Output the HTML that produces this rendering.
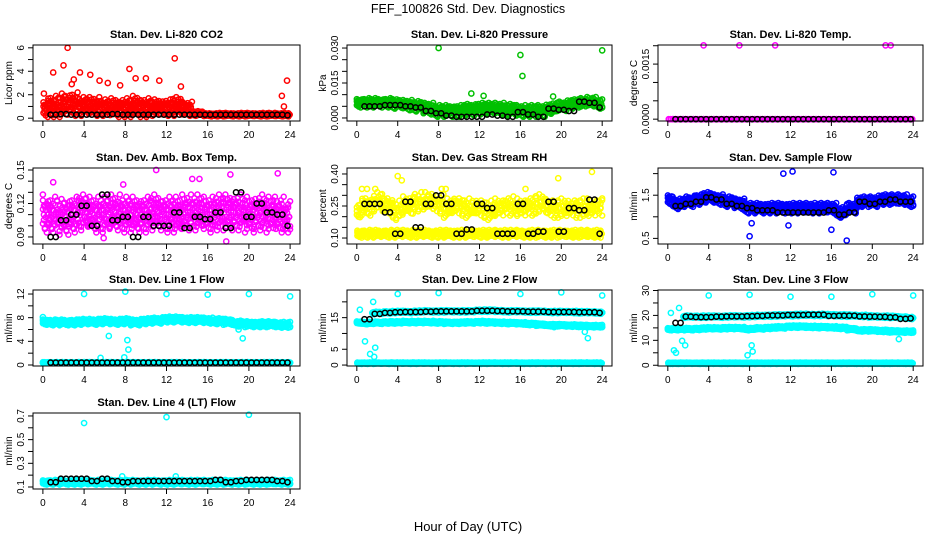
<!DOCTYPE html>
<html><head><meta charset="utf-8"><style>
body{margin:0;background:#fff;}
svg{display:block;font-family:"Liberation Sans",Arial,sans-serif;}
</style></head><body>
<svg id="chart" width="936" height="540" viewBox="0 0 936 540" xmlns="http://www.w3.org/2000/svg">
<text x="468" y="13" text-anchor="middle" font-size="12.5">FEF_100826  Std. Dev. Diagnostics</text>
<text x="468" y="531" text-anchor="middle" font-size="13">Hour of Day (UTC)</text>
</svg>
<script>
// ---- data (hourly, 0..24) ----
const hours=[0,1,2,3,4,5,6,7,8,9,10,11,12,13,14,15,16,17,18,19,20,21,22,23,24];
const xTicks=[0,4,8,12,16,20,24];

const co2Center=[0.8,1,1.1,1.2,1,1,0.9,0.9,0.9,1,0.9,0.9,0.9,1,0.8,0.4,0.3,0.3,0.3,0.3,0.3,0.3,0.3,0.3,0.3];
const co2Spread=[0.7,0.9,1,1,0.8,0.8,0.7,0.8,0.8,0.9,0.8,0.7,0.7,0.8,0.6,0.2,0.15,0.15,0.15,0.15,0.15,0.15,0.15,0.15,0.15];
const co2Black=[0.3,0.3,0.35,0.3,0.3,0.3,0.3,0.35,0.3,0.3,0.3,0.3,0.3,0.3,0.3,0.3,0.3,0.3,0.3,0.3,0.3,0.3,0.3,0.3,0.25];
const co2OutX=[2.4,12.8,2,8.4,3.6,1,23.7,9,11.3,6.3,23.2,23.4,0.1,4.6,5.5,3,10,2.8,7.5,13.4];
const co2OutY=[6,5.1,4.5,4.2,3.9,3.9,3.2,3.4,3.2,3,1.9,1,2.1,3.7,3.2,3.3,3.4,2.9,2.8,2.7];

const presCenter=[0.0065,0.0065,0.0065,0.0065,0.006,0.0055,0.005,0.004,0.003,0.003,0.003,0.0035,0.004,0.004,0.004,0.0035,0.003,0.003,0.003,0.004,0.005,0.006,0.0065,0.007,0.006];
const presSpread=[0.002,0.002,0.002,0.002,0.002,0.0022,0.0022,0.0025,0.0025,0.0025,0.0025,0.0025,0.0025,0.0025,0.0025,0.0025,0.0025,0.0025,0.0025,0.0022,0.002,0.002,0.002,0.002,0.002];
const presBlack=[0.0055,0.005,0.005,0.0055,0.0055,0.005,0.0045,0.003,0.002,0.001,0.0005,0.0005,0.0005,0.0015,0.001,0.0005,0.0025,0.0015,0.0005,0.004,0.0035,0.003,0.007,0.0065,0.0045];
const presOutX=[8,16,24,16.2,11.2,12.4,19.2];
const presOutY=[0.030,0.027,0.029,0.018,0.0105,0.0095,0.0092];

const tempCenter=[0,0,0,0,0,0,0,0,0,0,0,0,0,0,0,0,0,0,0,0,0,0,0,0,0];
const tempBlack=[0,0,0,0,0,0,0,0,0,0,0,0,0,0,0,0,0,0,0,0,0,0,0,0,0];
const tempOutX=[3.5,7,10.5,21.3,21.8];
const tempOutY=[0.00201,0.00201,0.00201,0.00201,0.00201];

const ambCenter=[0.11,0.11,0.108,0.11,0.112,0.11,0.11,0.112,0.11,0.11,0.11,0.112,0.11,0.11,0.112,0.112,0.11,0.112,0.112,0.112,0.11,0.112,0.11,0.11,0.108];
const ambSpread=[0.016,0.016,0.016,0.016,0.016,0.016,0.016,0.016,0.016,0.016,0.016,0.016,0.016,0.016,0.016,0.016,0.016,0.016,0.016,0.016,0.016,0.016,0.016,0.016,0.014];
const ambBlack=[0.105,0.09,0.105,0.11,0.118,0.1,0.128,0.105,0.108,0.09,0.108,0.1,0.1,0.112,0.098,0.108,0.106,0.112,0.098,0.13,0.108,0.12,0.112,0.11,0.1];
const ambOutX=[1,11,22.8,18.2,17.8,5.9,0,7.8,14.5,15.2];
const ambOutY=[0.139,0.15,0.147,0.146,0.086,0.089,0.128,0.137,0.142,0.142];

const rhLow=[0.12,0.12,0.12,0.12,0.12,0.12,0.12,0.12,0.12,0.12,0.12,0.12,0.12,0.12,0.12,0.12,0.12,0.12,0.12,0.12,0.12,0.12,0.12,0.12,0.12];
const rhHigh=[0.22,0.25,0.27,0.25,0.23,0.25,0.27,0.27,0.26,0.24,0.25,0.24,0.24,0.23,0.24,0.25,0.24,0.25,0.26,0.24,0.24,0.24,0.24,0.24,0.25];
const rhBlack=[0.12,0.26,0.26,0.22,0.12,0.27,0.15,0.26,0.3,0.26,0.12,0.14,0.26,0.24,0.12,0.12,0.26,0.12,0.13,0.27,0.13,0.24,0.23,0.28,0.12];
const rhOutX=[4,1,0.5,1.8,23,19.7,8.3,8.7,4.4,16.5];
const rhOutY=[0.39,0.33,0.33,0.33,0.41,0.38,0.33,0.33,0.37,0.33];

const sampCenter=[1.4,1.3,1.35,1.4,1.45,1.4,1.35,1.3,1.2,1.2,1.2,1.2,1.2,1.2,1.2,1.2,1.2,1.1,1.2,1.35,1.35,1.4,1.4,1.4,1.35];
const sampBlack=[1.3,1.25,1.3,1.35,1.45,1.4,1.3,1.25,1.2,1.15,1.15,1.1,1.1,1.1,1.1,1.1,1.15,1.05,1.1,1.35,1.3,1.35,1.4,1.35,1.35];
const sampOutX=[11.3,12.2,16.2,8,17.5,16,11.8,8.2];
const sampOutY=[2.0,2.05,2.03,0.55,0.45,0.7,0.8,0.85];

const l1High=[7.3,7.2,7.2,7.2,7.3,7.3,7.4,7.3,7.4,7.2,7.4,7.5,7.7,7.7,7.6,7.6,7.5,7.4,7.3,7,6.9,6.9,6.9,6.8,6.8];
const l1Low=[0.4,0.4,0.4,0.4,0.4,0.4,0.4,0.4,0.4,0.4,0.4,0.4,0.4,0.4,0.4,0.4,0.4,0.4,0.4,0.4,0.4,0.4,0.4,0.4,0.4];
const l1Black=[0.4,0.4,0.4,0.4,0.4,0.4,0.4,0.4,0.4,0.4,0.4,0.4,0.4,0.4,0.4,0.4,0.4,0.4,0.4,0.4,0.4,0.4,0.4,0.4,0.4];
const l1OutX=[4,8,12,16,20,24,6.4,8.2,8.3,19.4,5.6,7.9,0,19];
const l1OutY=[12,12.4,12,11.9,12,11.6,4.9,4.2,2.6,4.5,1.2,1.3,8.1,6];

const l2Top=[null,null,16.5,16.7,16.8,16.8,16.9,17,17,17,17,17,17.2,17.2,17.1,17,17,16.9,16.9,16.8,16.8,16.8,16.7,16.7,16.6];
const l2Mid=[13.5,13.3,13.4,13.5,13.5,13.6,13.6,13.6,13.5,13.4,13.4,13.5,13.6,13.5,13.4,13.3,13.2,13,12.8,12.6,12.6,12.5,12.4,12.3,12.3];
const l2Low=[0.6,0.6,0.6,0.6,0.6,0.6,0.6,0.6,0.6,0.6,0.6,0.6,0.6,0.6,0.6,0.6,0.6,0.6,0.6,0.6,0.6,0.6,0.6,0.6,0.6];
const l2Black=[null,14.5,16.2,16.5,16.7,16.8,16.8,16.9,17,17,17,17,17.2,17.2,17.1,17,17,16.9,16.9,16.8,16.8,16.8,16.7,16.7,16.5];
const l2OutX=[4,8,16,20,24,1.6,0.3,0.8,1.3,1.7,1.8,22.6,22.3,19.3];
const l2OutY=[22.5,22.8,22.5,23,22,20,17.5,7.5,3.5,2.6,5.5,8.5,10.5,12];

const l3Top=[null,null,19.5,19.5,19.5,19.5,19.6,19.6,19.7,19.8,19.9,20,20.1,20.2,20.2,20.2,20.1,20,19.9,19.8,19.6,19.5,19.4,19.2,19];
const l3Mid=[14.5,14.5,14.5,14.6,14.8,14.8,14.9,14.9,14.5,14.8,15,15.2,15.5,15.5,15.4,15.3,15.2,15,14.5,14,14,13.8,13.6,13.5,13.5];
const l3Low=[0.8,0.8,0.8,0.8,0.8,0.8,0.8,0.8,0.8,0.8,0.8,0.8,0.8,0.8,0.8,0.8,0.8,0.8,0.8,0.8,0.8,0.8,0.8,0.8,0.8];
const l3Black=[null,17,19.5,19.3,19.3,19.5,19.6,19.6,19.7,19.8,20,20,20.2,20.2,20.3,20.3,19.8,19.9,19.9,19.6,19.5,19.4,19.2,18.6,18.8];
const l3OutX=[4,8,12,16,20,24,0.3,1.1,1.4,0.6,0.8,7.8,8.2,8.3,1.7,22.6];
const l3OutY=[28,28.3,27.5,27.5,28.5,28,21,23,9.8,6,5,4,8,5.5,8,10.5];

const l4Center=[0.14,0.14,0.14,0.14,0.14,0.14,0.14,0.14,0.14,0.14,0.14,0.14,0.14,0.14,0.14,0.14,0.14,0.14,0.14,0.14,0.14,0.14,0.14,0.14,0.14];
const l4Black=[0.13,0.14,0.17,0.17,0.17,0.15,0.17,0.15,0.14,0.15,0.15,0.15,0.15,0.15,0.15,0.15,0.15,0.16,0.14,0.15,0.16,0.16,0.16,0.15,0.14];
const l4OutX=[4,12,20,7.7,12.9];
const l4OutY=[0.64,0.69,0.71,0.19,0.19];

// ---- layout ----
const svg=document.getElementById('chart');
const NS='http://www.w3.org/2000/svg';
function mk(tag,attrs,parent){const e=document.createElementNS(NS,tag);for(const k in attrs)e.setAttribute(k,attrs[k]);(parent||svg).appendChild(e);return e;}
const cols=[33,347,658], colW=[267,265,265], rows=[45,168,290,413], H=76;

function panel(ci,ri,name,title,ylab,lo,hi,ticks,labels,layers){
  const x0=cols[ci],w=colW[ci],y0=rows[ri];
  const g=mk('g',{});
  
  
  const xs=h=>x0+(h+0.96)/25.92*w;
  const ys=v=>y0+H-(v-lo)/(hi-lo)*H;
  const t=mk('text',{x:x0+w/2,y:y0-7,'text-anchor':'middle','font-size':'11','font-weight':'bold'},g);
  t.textContent=title;
  
  
  layers.forEach(L=>{
    const lg=mk('g',{fill:'none',stroke:L.color,'stroke-width':'1.5'},g);
    
    
    if(L.kind==='band'){
      L.vals.forEach((v,i)=>{ if(v===null)return;
        const sp=L.spread?(Array.isArray(L.spread)?L.spread[i]:L.spread):0;
        const n=(L.n||6)+3;
        for(let k=0;k<n;k++){
          const dx=(k/(n-1)-0.5)*0.95;
          const fr=(((i*7+k*13)%9)/4-1);
          const fr2=(((i*5+k*11)%7)/3-1);
          const hh=hours[i]+dx; if(hh<0||hh>24)continue;
          mk('circle',{cx:xs(hh),cy:ys(v+sp*fr),r:2.5},lg);
          mk('circle',{cx:xs(hh),cy:ys(v-sp*fr*0.6),r:2.5},lg);
          if(sp) mk('circle',{cx:xs(hh),cy:ys(v+sp*fr2*0.8),r:2.5},lg);
        }
      });
    } else if(L.kind==='hourly'){
      L.vals.forEach((v,i)=>{ if(v===null)return;
        [0,0.5].forEach(o=>{ const hh=hours[i]+o-0.25; if(hh<0.3||hh>24)return;
          mk('circle',{cx:xs(hh),cy:ys(v),r:2.6},lg);});
      });
    } else {
      L.xs.forEach((hx,i)=>mk('circle',{cx:xs(hx),cy:ys(L.ys[i]),r:2.6},lg));
    }
  });
  const b=mk('rect',{x:x0,y:y0,width:w,height:H,fill:'none',stroke:'#000','stroke-width':'1'},g);
  
  
  const xa=mk('g',{},g);
  
  
  xTicks.forEach(h=>{const X=xs(h);mk('line',{x1:X,x2:X,y1:y0+H,y2:y0+H+5,stroke:'#000'},xa);
    const tx=mk('text',{x:X,y:y0+H+17,'text-anchor':'middle','font-size':'10'},xa);tx.textContent=h;});
  const ya=mk('g',{},g);
  
  
  ticks.forEach((v,i)=>{const Y=ys(v);mk('line',{x1:x0-5,x2:x0,y1:Y,y2:Y,stroke:'#000'},ya);
    if(labels[i]){const tx=mk('text',{x:0,y:0,'text-anchor':'middle','font-size':'10',transform:`translate(${x0-9},${Y}) rotate(-90)`},ya);tx.textContent=labels[i];}});
  const yl=mk('text',{x:0,y:0,'text-anchor':'middle','font-size':'10',transform:`translate(${x0-21},${y0+H/2}) rotate(-90)`},g);
  yl.textContent=ylab;
  
  
}

panel(0,0,'co2','Stan. Dev. Li-820 CO2','Licor ppm',-0.24,6.24,[0,1,2,3,4,5,6],['0','','2','','4','','6'],[
 {id:'red-points',kind:'band',color:'#ff0000',vals:co2Center,spread:co2Spread,n:7},
 {id:'red-outliers',kind:'pts',color:'#ff0000',xs:co2OutX,ys:co2OutY},
 {id:'black-points',kind:'hourly',color:'#000',vals:co2Black}]);
panel(1,0,'pressure','Stan. Dev. Li-820 Pressure','kPa',-0.0013,0.0313,[0,0.005,0.01,0.015,0.02,0.025,0.03],['0.000','','','0.015','','','0.030'],[
 {id:'green-points',kind:'band',color:'#00c000',vals:presCenter,spread:presSpread,n:8},
 {id:'green-outliers',kind:'pts',color:'#00c000',xs:presOutX,ys:presOutY},
 {id:'black-points',kind:'hourly',color:'#000',vals:presBlack}]);
panel(2,0,'licor-temp','Stan. Dev. Li-820 Temp.','degrees C',-0.00005,0.00202,[0,0.0005,0.001,0.0015,0.002],['0.0000','','','0.0015',''],[
 {id:'magenta-points',kind:'band',color:'#ff00ff',vals:tempCenter,spread:0,n:3},
 {id:'black-points',kind:'hourly',color:'#000',vals:tempBlack},
 {id:'magenta-outliers',kind:'pts',color:'#ff00ff',xs:tempOutX,ys:tempOutY}]);
panel(0,1,'box-temp','Stan. Dev. Amb. Box Temp.','degrees C',0.0837,0.1518,[0.09,0.1,0.11,0.12,0.13,0.14,0.15],['0.09','','','0.12','','','0.15'],[
 {id:'magenta-points',kind:'band',color:'#ff00ff',vals:ambCenter,spread:ambSpread,n:8},
 {id:'magenta-outliers',kind:'pts',color:'#ff00ff',xs:ambOutX,ys:ambOutY},
 {id:'black-points',kind:'hourly',color:'#000',vals:ambBlack}]);
panel(1,1,'gas-rh','Stan. Dev. Gas Stream RH','percent',0.072,0.428,[0.1,0.15,0.2,0.25,0.3,0.35,0.4],['0.10','','','0.25','','','0.40'],[
 {id:'yellow-low',kind:'band',color:'#ffff00',vals:rhLow,spread:0.018,n:7},
 {id:'yellow-high',kind:'band',color:'#ffff00',vals:rhHigh,spread:0.045,n:4},
 {id:'yellow-outliers',kind:'pts',color:'#ffff00',xs:rhOutX,ys:rhOutY},
 {id:'black-points',kind:'hourly',color:'#000',vals:rhBlack}]);
panel(2,1,'sample-flow','Stan. Dev. Sample Flow','ml/min',0.37,2.13,[0.5,1,1.5,2],['0.5','','1.5',''],[
 {id:'blue-points',kind:'band',color:'#0000ff',vals:sampCenter,spread:0.12,n:8},
 {id:'blue-outliers',kind:'pts',color:'#0000ff',xs:sampOutX,ys:sampOutY},
 {id:'black-points',kind:'hourly',color:'#000',vals:sampBlack}]);
panel(0,2,'line1-flow','Stan. Dev. Line 1 Flow','ml/min',-0.17,12.68,[0,2,4,6,8,10,12],['0','','4','','8','','12'],[
 {id:'cyan-high',kind:'band',color:'#00ffff',vals:l1High,spread:0.5,n:8},
 {id:'cyan-low',kind:'band',color:'#00ffff',vals:l1Low,spread:0.1,n:6},
 {id:'cyan-outliers',kind:'pts',color:'#00ffff',xs:l1OutX,ys:l1OutY},
 {id:'black-points',kind:'hourly',color:'#000',vals:l1Black}]);
panel(1,2,'line2-flow','Stan. Dev. Line 2 Flow','ml/min',-0.3,23.75,[0,5,10,15,20],['0','5','','15',''],[
 {id:'cyan-top',kind:'band',color:'#00ffff',vals:l2Top,spread:0.4,n:6},
 {id:'cyan-mid',kind:'band',color:'#00ffff',vals:l2Mid,spread:0.4,n:8},
 {id:'cyan-low',kind:'band',color:'#00ffff',vals:l2Low,spread:0.25,n:7},
 {id:'cyan-outliers',kind:'pts',color:'#00ffff',xs:l2OutX,ys:l2OutY},
 {id:'black-points',kind:'hourly',color:'#000',vals:l2Black}]);
panel(2,2,'line3-flow','Stan. Dev. Line 3 Flow','ml/min',-0.3,30.2,[0,5,10,15,20,25,30],['0','','10','','20','','30'],[
 {id:'cyan-top',kind:'band',color:'#00ffff',vals:l3Top,spread:0.5,n:6},
 {id:'cyan-mid',kind:'band',color:'#00ffff',vals:l3Mid,spread:0.5,n:8},
 {id:'cyan-low',kind:'band',color:'#00ffff',vals:l3Low,spread:0.3,n:7},
 {id:'cyan-outliers',kind:'pts',color:'#00ffff',xs:l3OutX,ys:l3OutY},
 {id:'black-points',kind:'hourly',color:'#000',vals:l3Black}]);
panel(0,3,'line4-flow','Stan. Dev. Line 4 (LT) Flow','ml/min',0.083,0.725,[0.1,0.2,0.3,0.4,0.5,0.6,0.7],['0.1','','0.3','','0.5','','0.7'],[
 {id:'cyan-points',kind:'band',color:'#00ffff',vals:l4Center,spread:0.02,n:8},
 {id:'cyan-outliers',kind:'pts',color:'#00ffff',xs:l4OutX,ys:l4OutY},
 {id:'black-points',kind:'hourly',color:'#000',vals:l4Black}]);
</script>
</body></html>
